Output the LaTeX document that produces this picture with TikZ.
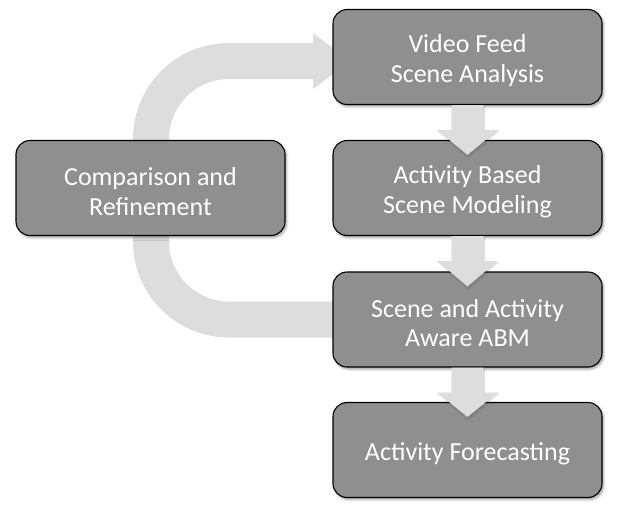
\documentclass[tikz,border=0pt]{standalone}
\usepackage{fontspec}
\setmainfont{Carlito}
\usetikzlibrary{calc,shadows.blur}
\definecolor{boxgray}{HTML}{8F8F8F}
\definecolor{arrowgray}{HTML}{DDDDDD}
\newcommand\stagestrutht{25pt}
\tikzset{
  stagestrut/.code={\renewcommand\stagestrutht{#1}},
  stagebox/.style={draw=black, line width=1.1pt, fill=boxgray, rounded corners=14pt,
    minimum width=269pt, minimum height=95pt, inner sep=0pt, align=center,
    text=white, font=\fontsize{26}{29.5}\selectfont,
    execute at begin node={\rule{0pt}{\stagestrutht}},
    blur shadow={shadow xshift=1.5pt, shadow yshift=-2pt, shadow blur radius=2.5pt, shadow opacity=40}},
  twoline/.style={stagebox, stagestrut=55pt},
  blockarrow/.style={fill=arrowgray, draw=none},
  loopband/.style={draw=arrowgray, line width=36pt, rounded corners=78pt},
}
\newcommand\flowarrow[2]{%
  \fill[blockarrow, blur shadow={shadow xshift=0.8pt, shadow yshift=-1pt, shadow blur radius=1.5pt, shadow opacity=20}]
    ($(#1.south)+(-16,0)$) -- ($(#1.south)+(-16,25)$) -- ($(#1.south)+(-30,25)$)
    -- ($(#2.north)+(0,15)$) -- ($(#1.south)+(30,25)$) -- ($(#1.south)+(16,25)$)
    -- ($(#1.south)+(16,0)$) -- cycle;}
\begin{document}
\begin{tikzpicture}[x=1pt,y=-1pt]
\useasboundingbox (0,0) rectangle (623,517);
% anchor points of the stages
\coordinate (videopos) at (467.5,57);
\coordinate (abmpos) at (467.5,319.5);
\coordinate (loopx) at (151,0);
\coordinate (looptip) at (350,61);
\coordinate (headbase) at ($(looptip)+(-37,0)$);
% feedback loop (behind the boxes)
\draw[loopband] (abmpos) -- (abmpos -| loopx) -- (headbase -| loopx) -- (headbase);
\fill[blockarrow] ($(headbase)+(0,-28)$) -- (looptip) -- ($(headbase)+(0,28)$) -- cycle;
% stages
\node[twoline] (video) at (videopos) {Video Feed\\Scene Analysis};
\node[twoline] (model) at (467.5,188) {Activity Based\\Scene Modeling};
\node[twoline] (abm) at (abmpos) {Scene and Activity\\Aware ABM};
\node[stagebox] (fore) at (467.5,450) {Activity Forecasting};
\node[twoline] (comp) at (150.5,188) {Comparison and\\Refinement};
\flowarrow{video}{model}
\flowarrow{model}{abm}
\flowarrow{abm}{fore}
\end{tikzpicture}
\end{document}
